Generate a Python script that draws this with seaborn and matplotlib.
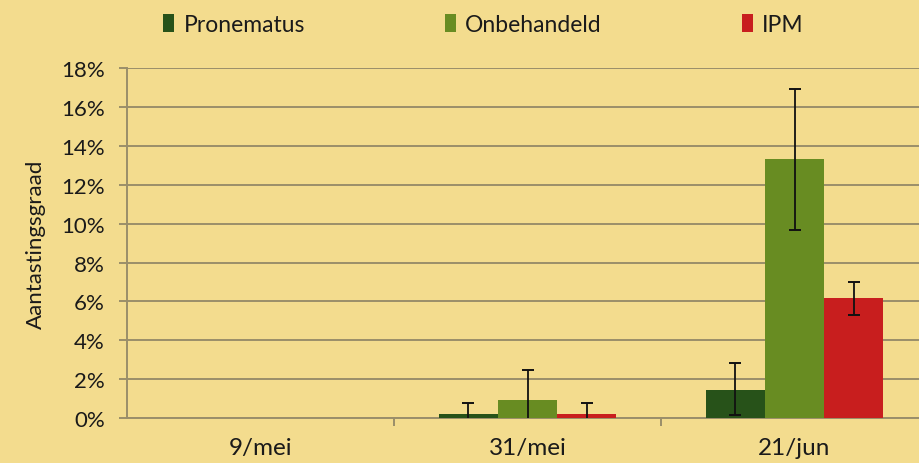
import numpy as np
import pandas as pd
import seaborn as sns
import matplotlib.pyplot as plt
from matplotlib.ticker import FixedLocator

# Data (percentages)
dates = ["9/mei", "31/mei", "21/jun"]
groups = ["Pronematus", "Onbehandeld", "IPM"]
pronematus = [0.0, 0.2, 1.45]
onbehandeld = [0.0, 0.95, 13.3]
ipm = [0.0, 0.2, 6.15]
err_pronematus_low = [0.0, 0.2, 1.3]
err_pronematus_high = [0.0, 0.55, 1.38]
err_onbehandeld_low = [0.0, 0.95, 3.65]
err_onbehandeld_high = [0.0, 1.5, 3.65]
err_ipm_low = [0.0, 0.2, 0.85]
err_ipm_high = [0.0, 0.55, 0.85]

bg = "#F3DC8E"
colors = ["#275219", "#688C22", "#C81E1E"]
grid_col = "#9A8E6A"

sns.set_theme(style="white")
plt.rcParams["font.family"] = ["Lato", "DejaVu Sans"]

df = pd.DataFrame({
    "date": dates * 3,
    "group": np.repeat(groups, 3),
    "value": pronematus + onbehandeld + ipm,
})

fig = plt.figure(figsize=(9.19, 4.64), dpi=100, facecolor=bg)
ax = fig.add_axes([0.1382, 0.097, 0.8716, 0.754])
ax.set_facecolor(bg)

sns.barplot(data=df, x="date", y="value", hue="group", order=dates, hue_order=groups,
            palette=colors, width=0.665, errorbar=None, ax=ax, saturation=1,
            linewidth=0, edgecolor="none", zorder=3)

# error bars at the centre of each bar; caps only where the end is above 0
lows = [err_pronematus_low, err_onbehandeld_low, err_ipm_low]
highs = [err_pronematus_high, err_onbehandeld_high, err_ipm_high]
vals = [pronematus, onbehandeld, ipm]
bar_containers = list(ax.containers)
for i, cont in enumerate(bar_containers):
    xs = [b.get_x() + b.get_width() / 2 for b in cont]
    for j, x in enumerate(xs):
        if vals[i][j] == 0:
            continue
        lo = vals[i][j] - lows[i][j]
        hi = vals[i][j] + highs[i][j]
        ax.vlines(x, lo, hi, color="#111111", linewidth=1.3, zorder=4)
        ends = [hi] + ([lo] if lo > 0.05 else [])
        ax.plot([x] * len(ends), ends, ls="none", marker="_", ms=9, mew=1.4,
                color="#111111", zorder=4)

ax.set_xlim(-0.5, 2.5)
ax.set_ylim(0, 18)
ax.set_yticks(np.arange(0, 19, 2))
ax.set_yticklabels([f"{v}%" for v in range(0, 19, 2)])
ax.grid(axis="y", color=grid_col, linewidth=1.4, zorder=0)
ax.set_axisbelow(True)

for s in ["top", "right"]:
    ax.spines[s].set_visible(False)
for s in ["left", "bottom"]:
    ax.spines[s].set_color(grid_col)
    ax.spines[s].set_linewidth(1.4)

ax.tick_params(axis="y", left=True, length=6, width=1.4, color=grid_col,
               labelsize=16, labelcolor="#1a1a1a", pad=10)
ax.tick_params(axis="x", bottom=False, labelsize=17.5, labelcolor="#1a1a1a", pad=8)
ax.xaxis.set_minor_locator(FixedLocator([0.5, 1.5]))
ax.tick_params(axis="x", which="minor", bottom=True, length=6, width=1.4, color=grid_col)

ax.set_xlabel("")
ax.set_ylabel("Aantastingsgraad", fontsize=16, color="#1a1a1a", labelpad=11)

handles, labels = ax.get_legend_handles_labels()
ax.legend_.remove()
fig.legend(handles, labels, loc="center", bbox_to_anchor=(0.526, 0.945), ncol=3,
           frameon=False, fontsize=16.5, handlelength=0.5, handleheight=0.8,
           handletextpad=0.4, columnspacing=6.1, labelcolor="#1a1a1a")

fig.savefig("out.png", dpi=100, facecolor=bg)
